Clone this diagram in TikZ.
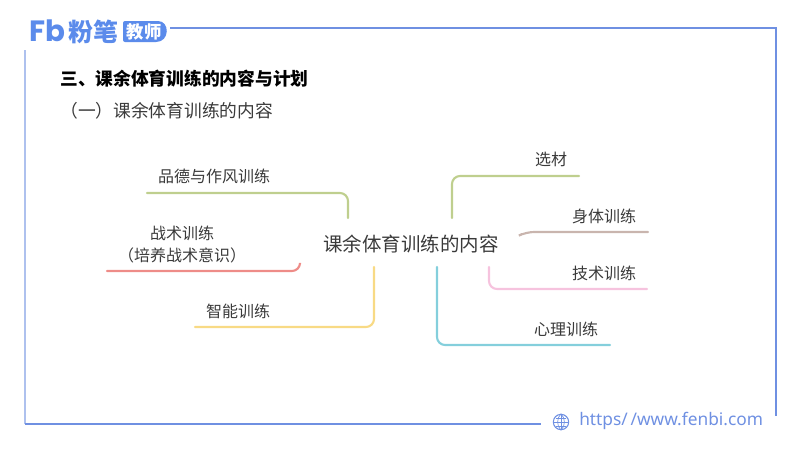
\documentclass[tikz,border=0pt]{standalone}
\usepackage{fontspec}
\setmainfont{Noto Sans CJK SC}
\newfontfamily\urlfont{Noto Sans}
\newfontfamily\logofont{Poppins}
\usetikzlibrary{positioning}
\definecolor{frame_blue}{HTML}{6F90E2}
\definecolor{frame_light}{HTML}{AEC1EE}
\definecolor{logo_blue}{HTML}{5B8BEB}
\definecolor{olive_line}{HTML}{BFCF8E}
\definecolor{red_line}{HTML}{EE8C88}
\definecolor{yellow_line}{HTML}{F8DA85}
\definecolor{brown_line}{HTML}{C9B5AE}
\definecolor{pink_line}{HTML}{F6C3DE}
\definecolor{cyan_line}{HTML}{84CFDC}
\definecolor{text_grey}{HTML}{3A3A3A}

\begin{document}
\begin{tikzpicture}[x=0.75pt, y=-0.75pt,
  leaf_style/.style={inner sep=0pt, align=center, text=text_grey, font=\fontsize{12}{16.5}\selectfont},
  root_style/.style={inner sep=0pt, text=text_grey, font=\fontsize{14.6}{18}\selectfont},
  branch_style/.style={line width=1.6pt, rounded corners=6pt, line cap=round},
  frame_style/.style={draw=frame_blue, line width=1.2pt}]
  \useasboundingbox (0,0) rectangle (800,450);

  % frame
  \coordinate (f1) at (170,28);
  \coordinate (f2) at (776,28);
  \coordinate (f3) at (776,416);
  \coordinate (f4) at (25,50);
  \coordinate (f5) at (25,424);
  \coordinate (f6) at (541,424);
  \draw [frame_style] (f1) -- (f2) -- (f3);
  \draw [frame_style, draw=frame_light, line width=1.5pt] (f4) -- (f5);
  \draw [frame_style] (f5) -- (f6);

  % logo
  \node (fb) [inner sep=0pt, text=logo_blue, font=\logofont\fontsize{22}{22}\selectfont\bfseries] at (47,31) {Fb};
  \node (fenbi) [inner sep=0pt, text=logo_blue, font=\fontsize{18.7}{19}\selectfont\bfseries] at (93,32) {粉笔};
  \fill [logo_blue, rounded corners=1.5pt] (123,21) -- (156,21) [sharp corners] .. controls (170,21) and (170,42) .. (156,42) [rounded corners=1.5pt] -- (123,42) -- cycle;
  \node (teacher) [inner sep=0pt, text=white, font=\fontsize{13}{13}\selectfont\bfseries] at (144,32) {教师};

  % headings
  \node (title) [inner sep=0pt, anchor=west, font=\fontsize{13.3}{16}\selectfont\bfseries] at (60,79) {三、课余体育训练的内容与计划};
  \node (subtitle) [inner sep=0pt, anchor=west, text=text_grey, font=\fontsize{13.3}{16}\selectfont] at (60,111) {（一）课余体育训练的内容};

  % mind map
  \node (root) [root_style] at (411,244) {课余体育训练的内容};

  \node (pinde) [leaf_style] at (214,176) {品德与作风训练};
  \node (zhanshu) [leaf_style] at (182,245) {战术训练\\（培养战术意识）};
  \node (zhineng) [leaf_style] at (238,311) {智能训练};
  \node (xuancai) [leaf_style] at (551,159) {选材};
  \node (shenti) [leaf_style] at (604,216) {身体训练};
  \node (jishu) [leaf_style] at (604,273) {技术训练};
  \node (xinli) [leaf_style] at (566,329) {心理训练};

  \coordinate (a1) at (348,218);  \coordinate (a2) at (348,193);  \coordinate (a3) at (147,193);
  \coordinate (b1) at (300,264);  \coordinate (b2) at (300,271);  \coordinate (b3) at (107,271);
  \coordinate (c1) at (374,267);  \coordinate (c2) at (374,327);  \coordinate (c3) at (195,327);
  \coordinate (d1) at (452,218);  \coordinate (d2) at (452,176);  \coordinate (d3) at (579,176);
  \coordinate (e1) at (522,234);  \coordinate (e2) at (526,232);  \coordinate (e3) at (648,232);
  \coordinate (g1) at (489,267);  \coordinate (g2) at (489,289);  \coordinate (g3) at (647,289);
  \coordinate (h1) at (437,267);  \coordinate (h2) at (437,345);  \coordinate (h3) at (610,345);

  \draw [branch_style, olive_line] (a1) -- (a2) -- (a3);
  \draw [branch_style, red_line] (b1) -- (b2) -- (b3);
  \draw [branch_style, yellow_line] (c1) -- (c2) -- (c3);
  \draw [branch_style, olive_line] (d1) -- (d2) -- (d3);
  \draw [branch_style, brown_line] (e1) -- (e2) -- (e3);
  \draw [branch_style, pink_line] (g1) -- (g2) -- (g3);
  \draw [branch_style, cyan_line] (h1) -- (h2) -- (h3);

  % footer
  \node (globe) [circle, draw=frame_blue, line width=0.8pt, minimum size=11.5pt, inner sep=0pt] at (561,422) {};
  \draw [frame_blue, line width=0.5pt] (globe.north) -- (globe.south);
  \draw [frame_blue, line width=0.5pt] (globe.west) -- (globe.east);
  \draw [frame_blue, line width=0.5pt] (globe.north) to [bend left=45] (globe.south);
  \draw [frame_blue, line width=0.5pt] (globe.north) to [bend right=45] (globe.south);
  \draw [frame_blue, line width=0.5pt] (556,418) -- (566,418);
  \draw [frame_blue, line width=0.5pt] (556,426) -- (566,426);
  \node (url) [inner sep=0pt, anchor=west, text=frame_blue, font=\urlfont\fontsize{13}{15}\selectfont] at (579,421) {https/\kern2pt/www.fenbi.com};
\end{tikzpicture}
\end{document}
